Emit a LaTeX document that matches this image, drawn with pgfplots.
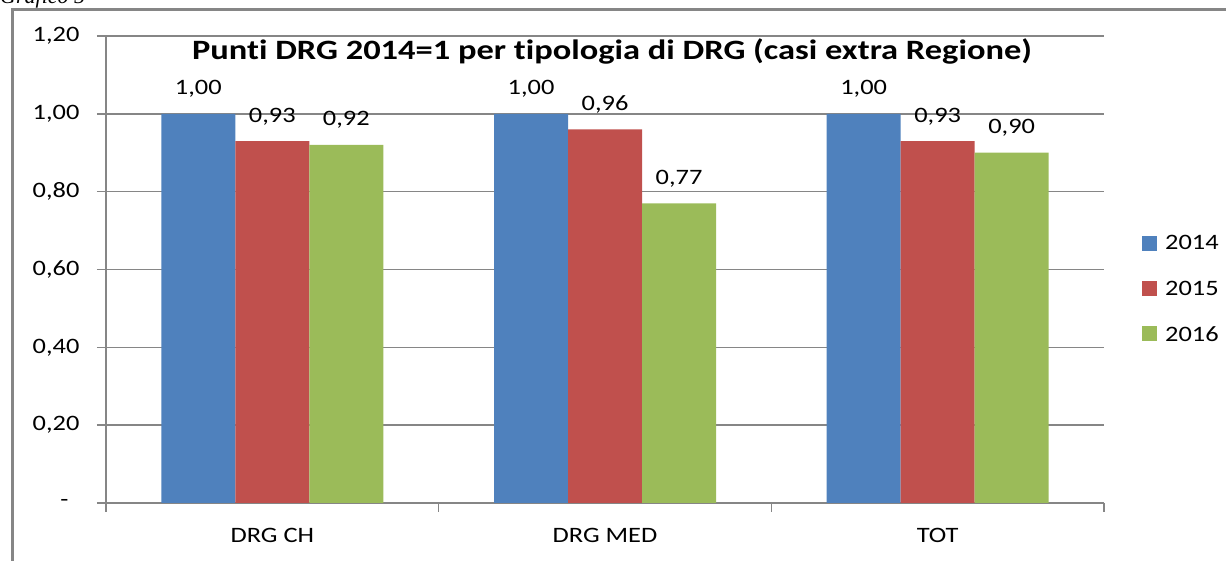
\documentclass[border=0pt]{standalone}
\usepackage{fontspec}
\setmainfont[FakeStretch=1.2,Ligatures=NoCommon]{Carlito}
\newfontfamily\titlefont[FakeStretch=1.23,Ligatures=NoCommon]{Carlito}
\newfontfamily\timesf{Liberation Serif}
\usepackage{pgfplots}
\pgfplotsset{compat=1.18}
\definecolor{cA}{HTML}{4F81BD}
\definecolor{cB}{HTML}{C0504D}
\definecolor{cC}{HTML}{9BBB59}
\definecolor{gridc}{HTML}{868686}
\begin{document}
\begin{tikzpicture}[x=1pt,y=1pt]
\path[use as bounding box, clip] (0,0) rectangle (1226,561);
\node[anchor=base west, inner sep=0, font=\timesf\itshape\fontsize{22}{26}\selectfont] at (0,557) {Grafico 5};
\draw[gridc, line width=3pt] (12,-20) -- (12,551) -- (1260,551);
\begin{axis}[
  at={(106pt,58pt)}, anchor=south west,
  scale only axis, width=998pt, height=467pt,
  xmin=0, xmax=3, ymin=0, ymax=1.2,
  ybar=0pt, bar width=74pt,
  xtick={0.5,1.5,2.5}, xticklabels={DRG CH, DRG MED, TOT},
  minor xtick={0,1,2,3},
  major x tick style={draw=none},
  ytick={0,0.2,0.4,0.6,0.8,1.0,1.2},
  yticklabels={{-\rule{11pt}{0pt}},{0,20},{0,40},{0,60},{0,80},{1,00},{1,20}},
  ymajorgrids, grid style={gridc, line width=1.5pt},
  axis lines*=left,
  axis line style={gridc, line width=1.5pt},
  tick align=outside,
  tick style={gridc, line width=1.5pt},
  major tick length=9pt, minor tick length=9pt,
  tick label style={font=\fontsize{22}{26}\selectfont, text=black},
  yticklabel style={xshift=-14pt},
  xticklabel style={yshift=-13pt},
  nodes near coords={\pgfmathprintnumber[fixed,fixed zerofill,precision=2,use comma,assume math mode=true]{\pgfplotspointmeta}},
  every node near coord/.append style={font=\fontsize{22}{26}\selectfont, text=black, anchor=base, yshift=19pt},
  legend style={draw=none, at={(1.038,0.458)}, anchor=west, font=\fontsize{22}{26}\selectfont, row sep=25.5pt, inner sep=0pt},
  legend cell align=left,
  legend image code/.code={\fill[#1] (0pt,-7pt) rectangle (15pt,8pt); \path (21pt,0pt);},
]
\addplot[fill=cA, draw=none] coordinates {(0.5,1.00) (1.5,1.00) (2.5,1.00)};
\addplot[fill=cB, draw=none] coordinates {(0.5,0.93) (1.5,0.96) (2.5,0.93)};
\addplot[fill=cC, draw=none] coordinates {(0.5,0.92) (1.5,0.77) (2.5,0.90)};
\legend{2014,2015,2016}
\end{axis}
\node[anchor=base, inner sep=0, font=\titlefont\bfseries\fontsize{28}{32}\selectfont] at (612,501) {Punti DRG 2014=1 per tipologia di DRG (casi extra Regione)};
\end{tikzpicture}
\end{document}
